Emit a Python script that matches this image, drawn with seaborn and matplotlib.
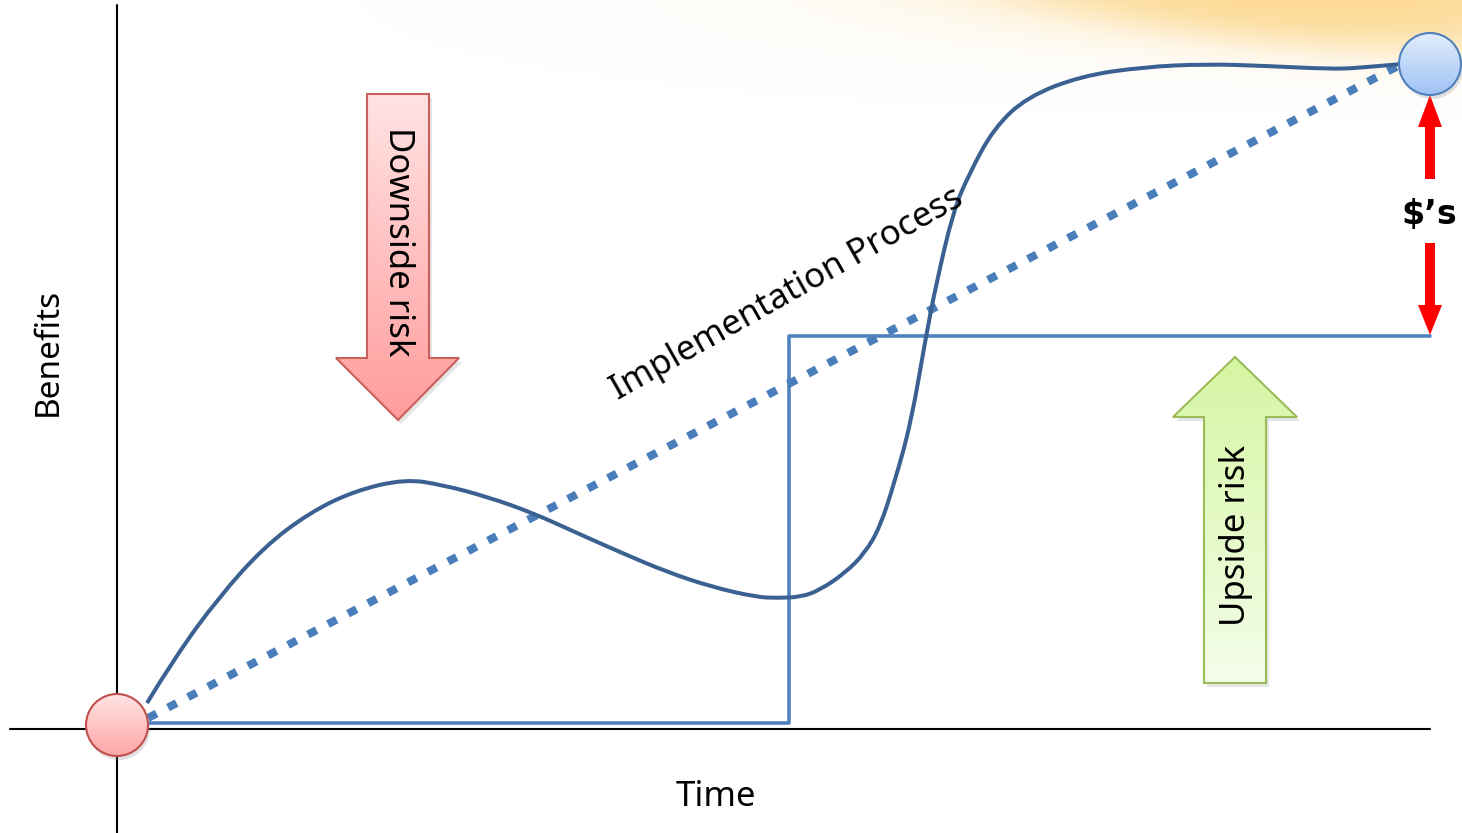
import numpy as np
import matplotlib
matplotlib.use("Agg")
import matplotlib.pyplot as plt
from matplotlib.patches import Polygon, Circle, PathPatch
from matplotlib.path import Path
from matplotlib.colors import LinearSegmentedColormap, to_rgb
import seaborn as sns

# ---------------------------------------------------------------------------
# Data (time / benefit units, origin where the two axes cross)
# ---------------------------------------------------------------------------
# Actual benefits realised along the implementation process
curve_time = [30, 58, 102, 147, 192, 237, 288, 326, 371, 416, 460, 505, 550,
              595, 639, 660, 684, 703, 728, 748, 763, 777, 794, 809, 819, 836,
              852, 877, 910, 964, 1026, 1089, 1151, 1213, 1242, 1284]
curve_benefit = [26, 72, 132, 182, 216, 238, 250, 244, 232, 216, 196, 176, 157,
                 142, 132, 131, 132, 139, 156, 176, 202, 245, 306, 393, 444,
                 517, 555, 601, 632, 653, 662, 665, 663, 660, 661, 665]

# Benefits arriving in one step at go-live
step_time = [31, 672, 1313]
step_benefit = [6, 393, 393]

# Planned (linear) benefit path
plan_time = [31, 1283]
plan_benefit = [11, 664]

# Start / target points
start_point = (0, 4)
target_point = (1313, 665)

# ---------------------------------------------------------------------------
sns.set_theme(style="white")
plt.rcParams["font.family"] = ["Noto Sans", "DejaVu Sans"]

fig = plt.figure(figsize=(14.62, 8.33), dpi=100)
ax = fig.add_axes([0, 0, 1, 1])
ax.set_axis_off()
XLIM = (-117, 1345)
YLIM = (-104, 729)


def vertical_gradient(patch, c_top, c_bot, z):
    """Fill a patch with a vertical colour gradient."""
    ax.add_patch(patch)
    if isinstance(patch, Circle):
        cx, cy = patch.center
        r = patch.radius
        l, r_, b, t = cx - r, cx + r, cy - r, cy + r
    else:
        verts = patch.get_xy()
        l, r_ = verts[:, 0].min(), verts[:, 0].max()
        b, t = verts[:, 1].min(), verts[:, 1].max()
    cmap = LinearSegmentedColormap.from_list("g", [c_top, c_bot])
    grad = np.linspace(0, 1, 256)[:, None]
    im = ax.imshow(grad, cmap=cmap, extent=(l, r_, b, t), origin="upper",
                   aspect="auto", interpolation="bilinear", zorder=z)
    im.set_clip_path(patch)


def smooth_path(xs, ys):
    """Quadratic Bezier path running through the midpoints of the points."""
    pts = np.column_stack([xs, ys]).astype(float)
    verts = [pts[0]]
    codes = [Path.MOVETO]
    for i in range(1, len(pts) - 1):
        mid = (pts[i] + pts[i + 1]) / 2
        if i == len(pts) - 2:
            mid = pts[i + 1]
        verts += [pts[i], mid]
        codes += [Path.CURVE3, Path.CURVE3]
    return Path(verts, codes)


# warm glow in the upper right corner: a soft-edged tilted ellipse
gx = np.linspace(XLIM[0], XLIM[1], 700)
gy = np.linspace(YLIM[0], YLIM[1], 400)
GX, GY = np.meshgrid(gx, gy)
u = (GX - 1150) / 400.0
v = (GY - 755 + 0.10 * (GX - 1150)) / 75.0
r = np.sqrt(u ** 2 + v ** 2)
core = 0.92 / (1 + np.exp((r - 0.85) / 0.16))
u2 = (GX - 1050) / 430.0
v2 = (GY - 732) / 60.0
haze = 0.14 * np.exp(-(u2 ** 2 + v2 ** 2))
alpha = 1 - (1 - core) * (1 - haze)
glow = np.zeros(GX.shape + (4,))
glow[..., :3] = to_rgb("#fdd68a")
glow[..., 3] = np.clip(alpha, 0, 1)
ax.imshow(glow, extent=(XLIM[0], XLIM[1], YLIM[0], YLIM[1]), origin="lower",
          aspect="auto", interpolation="bilinear", zorder=0)

# axes cross
ax.plot([-107, 1313], [0, 0], color="black", lw=1.5, zorder=1)
ax.plot([0, 0], [-104, 724], color="black", lw=1.5, zorder=1)

# step and plan lines
sns.lineplot(x=step_time, y=step_benefit, ax=ax, color="#4f81bd", lw=2.6,
             drawstyle="steps-post", sort=False, zorder=3)
sns.lineplot(x=plan_time, y=plan_benefit, ax=ax, color="#4a7ebb", lw=5.8,
             linestyle=(0, (1.2, 1.6)), dash_capstyle="butt", sort=False,
             zorder=4)

# actual benefit curve, drawn smooth through its points
ax.add_patch(PathPatch(smooth_path(curve_time, curve_benefit), fc="none",
                       ec="#3b6192", lw=2.9, capstyle="butt", zorder=5))

# downside risk arrow
down = np.array([[250, 635], [312, 635], [312, 371], [342, 371], [281, 309],
                 [219, 371], [250, 371]])
ax.add_patch(Polygon(down + [3, -4], closed=True, fc="#999999", ec="none",
                     alpha=0.25, zorder=5))
vertical_gradient(Polygon(down, closed=True, fc="none", ec="#c9605c", lw=1.5,
                          zorder=7), "#ffe3e3", "#ff9c9c", 6)

# upside risk arrow
up = np.array([[1087, 46], [1149, 46], [1149, 312], [1180, 312], [1118, 372],
               [1056, 312], [1087, 312]])
ax.add_patch(Polygon(up + [3, -4], closed=True, fc="#999999", ec="none",
                     alpha=0.25, zorder=5))
vertical_gradient(Polygon(up, closed=True, fc="none", ec="#9bbb59", lw=1.5,
                          zorder=7), "#d5f6a2", "#f4fdea", 6)

# red double arrow for the value gap
red_up = np.array([[1308, 550], [1318, 550], [1318, 602], [1325, 602],
                   [1313, 634], [1301, 602], [1308, 602]])
red_dn = np.array([[1308, 486], [1318, 486], [1318, 424], [1325, 424],
                   [1313, 394], [1301, 424], [1308, 424]])
for arr in (red_up, red_dn):
    ax.add_patch(Polygon(arr, closed=True, fc="#ff0000", ec="none", zorder=6))

# start / target circles
for (cx, cy), ctop, cbot, edge in [
        (start_point, "#ffe4e4", "#ffa6a6", "#c0504d"),
        (target_point, "#e2edfc", "#9ec2f5", "#4f81bd")]:
    ax.add_patch(Circle((cx + 2, cy - 4), 31, fc="#888888", ec="none",
                        alpha=0.25, zorder=7))
    vertical_gradient(Circle((cx, cy), 31, fc="none", ec=edge, lw=1.5,
                             zorder=9), ctop, cbot, 8)

# labels
ax.text(-69, 377, "Benefits", rotation=90, ha="center", va="center",
        fontsize=24, color="black")
ax.text(599, -68, "Time", ha="center", va="center", fontsize=25,
        color="black")
ax.text(281, 487, "Downside risk", rotation=-90, ha="center", va="center",
        fontsize=25, color="black", zorder=10)
ax.text(1119, 194, "Upside risk", rotation=90, ha="center", va="center",
        fontsize=25, color="black", zorder=10)
ax.text(670, 435, "Implementation Process", rotation=29.5,
        rotation_mode="anchor", ha="center", va="center", fontsize=25,
        color="black", zorder=10)
ax.text(1312, 515, "$\u2019s", ha="center", va="center", fontsize=24,
        fontweight="bold", family=["DejaVu Sans"], color="black", zorder=10)

ax.set_xlim(*XLIM)
ax.set_ylim(*YLIM)
fig.savefig("out.png", dpi=100)
